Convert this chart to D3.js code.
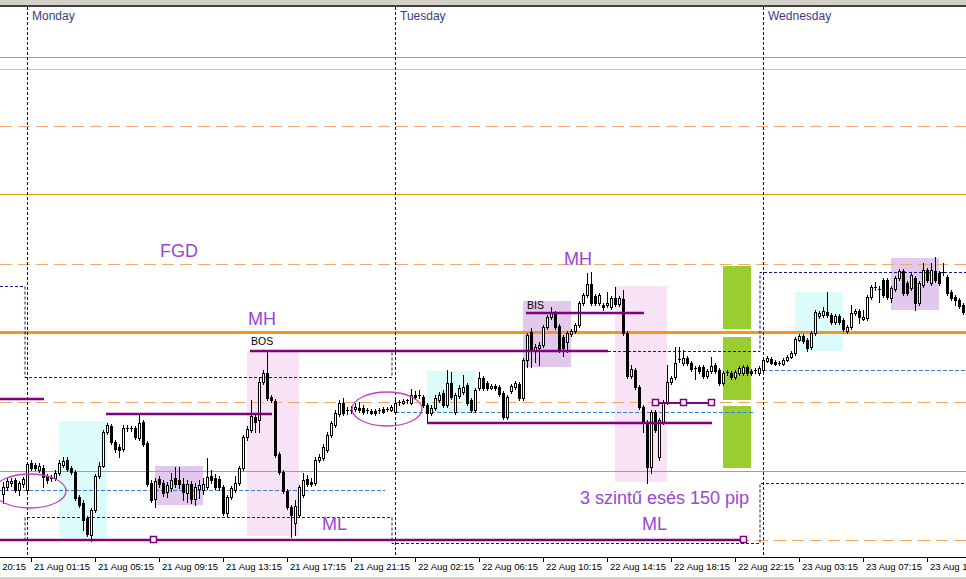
<!DOCTYPE html>
<html><head><meta charset="utf-8">
<script src="https://cdn.jsdelivr.net/npm/d3@7"></script>
<style>body{margin:0;background:#fff}svg{display:block}</style>
</head><body>
<svg id="c" width="966" height="579"></svg>
<script>
// 15-minute candles, [open, high, low, close] in price points
const ohlc = [
[85,97,76,92],[92,101,89,98],[96,101,93,98],[99,101,87,89],[89,98,84,96],[95,102,92,100],
[89,117,87,115],[116,119,109,111],[114,116,109,111],[109,116,107,113],[111,114,92,102],[103,105,96,99],
[101,104,98,100],[101,109,99,106],[106,119,104,116],[114,122,112,118],[119,122,108,110],[111,113,105,107],
[107,109,79,81],[82,84,72,74],[76,79,49,59],[61,63,43,45],[44,71,38,69],[69,105,67,103],
[103,117,101,113],[113,149,112,147],[147,156,145,154],[153,155,135,137],[137,139,127,130],[132,135,122,129],
[130,154,128,151],[150,154,148,151],[151,153,148,150],[151,153,140,142],[141,164,139,156],[157,159,133,135],
[136,138,93,95],[96,99,77,79],[80,101,72,98],[100,103,92,95],[96,99,83,86],[87,97,82,94],
[91,106,88,99],[101,112,92,95],[99,112,91,95],[95,101,79,87],[86,99,77,95],[95,98,76,80],
[80,96,74,92],[90,99,81,94],[89,101,85,95],[92,121,90,102],[103,109,96,99],[101,105,90,92],
[100,103,89,92],[92,94,64,66],[66,84,63,82],[82,93,80,91],[89,103,87,96],[96,113,94,111],
[111,144,109,142],[142,153,139,150],[149,179,147,163],[162,165,147,157],[159,201,147,197],[197,209,195,206],
[206,227,179,181],[182,184,177,179],[178,180,122,124],[125,127,105,107],[107,109,86,88],[88,90,70,72],
[72,74,42,64],[56,79,44,73],[64,94,62,92],[84,106,82,99],[100,104,93,95],[97,101,93,95],
[96,122,94,119],[119,125,117,122],[121,135,119,132],[129,147,127,144],[144,158,142,156],[154,169,152,166],
[165,179,163,176],[176,181,164,166],[168,172,165,169],[169,173,166,168],[170,176,168,172],[171,177,167,169],
[171,174,165,167],[168,171,166,169],[168,170,165,166],[168,170,164,166],[168,171,166,169],[170,172,166,167],
[169,172,168,170],[169,174,168,172],[167,179,166,176],[176,179,174,177],[176,180,175,178],[178,180,176,179],
[176,190,175,184],[184,188,180,182],[183,189,181,184],[182,184,172,174],[174,176,157,166],[166,174,164,171],
[171,184,169,181],[179,187,177,184],[186,189,172,174],[174,209,172,196],[196,207,180,182],[167,186,165,184],
[183,194,181,191],[187,204,185,192],[194,196,174,176],[179,181,167,169],[169,191,167,189],[191,207,189,201],
[201,203,189,191],[196,198,189,191],[191,195,190,193],[193,195,189,191],[192,194,183,185],[186,188,160,162],
[162,184,160,182],[188,195,186,193],[192,198,190,196],[195,197,179,181],[181,221,179,219],[219,246,212,244],
[247,251,212,229],[229,235,217,232],[231,237,214,234],[234,254,232,252],[252,264,250,262],[262,272,260,266],
[266,268,250,252],[253,255,227,229],[242,244,223,231],[237,248,227,246],[245,250,243,248],[248,256,246,254],
[254,278,252,276],[276,286,274,284],[284,306,282,295],[295,307,274,276],[283,285,274,276],[276,286,274,284],
[274,276,269,272],[274,287,272,276],[272,283,270,281],[281,292,273,275],[275,283,273,281],[280,289,244,246],
[246,248,201,203],[203,214,201,210],[209,211,190,192],[192,194,170,172],[172,174,147,157],[157,159,96,112],
[112,169,106,167],[167,169,147,149],[122,161,119,159],[157,179,155,177],[177,214,175,197],[197,203,195,201],
[202,232,200,216],[219,232,217,220],[216,229,214,221],[221,223,214,216],[216,218,208,210],[211,213,200,210],
[212,214,206,208],[212,214,201,203],[203,210,201,208],[208,222,206,213],[214,216,206,208],[209,211,194,196],
[196,208,194,206],[206,209,204,207],[206,208,200,202],[202,209,200,207],[206,213,204,211],[206,214,204,212],
[212,214,204,206],[208,210,204,206],[209,211,206,208],[206,213,204,211],[209,221,207,219],[218,223,217,221],
[220,222,215,216],[217,219,214,215],[216,218,214,215],[215,221,214,219],[219,224,218,222],[222,228,221,226],
[226,242,224,240],[239,245,238,243],[243,245,236,238],[239,241,228,231],[232,248,230,246],[246,269,244,267],
[263,268,261,266],[264,272,262,268],[267,287,262,264],[264,266,255,257],[257,265,255,263],[263,265,255,257],
[259,261,248,250],[248,254,246,252],[252,274,250,266],[266,270,264,268],[268,270,256,262],[260,269,259,262],
[261,284,259,282],[282,294,280,292],[291,297,289,292],[290,293,277,289],[299,301,282,284],[299,301,280,282],
[281,293,277,291],[290,303,288,301],[301,310,299,308],[308,310,284,286],[296,298,284,286],[291,306,289,304],
[301,303,269,276],[276,298,274,296],[294,316,292,309],[309,311,297,299],[296,316,294,309],[308,322,297,299],
[306,308,294,296],[307,316,304,306],[302,304,284,286],[287,289,279,281],[282,284,274,279],[279,281,271,273],
[274,276,265,267]
];
const tickBars = [-9,7,23,39,55,71,87,103,119,135,151,167,183,199,215,231];
const tickLabels = ["20 Aug 20:15","21 Aug 01:15","21 Aug 05:15","21 Aug 09:15","21 Aug 13:15","21 Aug 17:15",
  "21 Aug 21:15","22 Aug 02:15","22 Aug 06:15","22 Aug 10:15","22 Aug 14:15","22 Aug 18:15","22 Aug 22:15",
  "23 Aug 03:15","23 Aug 07:15","23 Aug 11:15"];
const dayStarts = [6, 98, 190];
const dayNames = ["Monday", "Tuesday", "Wednesday"];
const goldLevels = [522, 384, 108];
const dashedLevels = [453, 315, 177, 39];
const mainLevel = 247;
const grayLevel = 509;
// previous-day high / low steps: [fromBar, toBar, high, low]
const prevDay = [[-2, 5.5, 293, 39], [5.5, 97.25, 202, 62], [97.25, 189.25, 228, 36], [189.25, 242, 307, 96]];
// day open lines: [fromBar, toBar, price]
const dayOpen = [[-1, 95.5, 89], [98, 188, 167], [190, 242, 209]];
// zones: [fromBar, toBar, top, bottom, kind]
const zones = [
  [14, 26, 158, 42, "cyan"], [38, 50, 113, 74, "violet"], [61, 74, 228, 43, "pink"],
  [106, 118, 208, 167, "cyan"], [130, 142, 278, 212, "violet"], [153, 166, 293, 97, "pink"],
  [180, 187, 313, 250, "green"], [180, 187, 242, 179, "green"], [180, 187, 173, 111, "green"],
  [198, 210, 287, 228, "cyan"], [222, 234, 321, 269, "violet"]
];
// structure lines: [fromBar, toBar, price, width]
const structLines = [
  [-1, 10.25, 180, 2.5], [25.75, 67.25, 165, 2.5], [61.75, 151.25, 228, 2.5], [-1, 185.5, 39, 2.5],
  [106, 177.25, 156, 2.5], [130.75, 160.25, 266, 2.5], [163, 177, 176, 2]
];
const markers = [[37.5, 39], [185, 39], [163, 176], [170, 176], [177, 176]];
const ellipses = [[6.75, 88, 9, 17], [96, 170, 8.75, 17]];
// annotations: [text, bar, price, size, colour]
const notes = [
  ["FGD", 39.25, 322, 18, "#9b45d6"], ["MH", 61.25, 254, 18, "#9b45d6"], ["BOS", 62, 234, 10.5, "#000"],
  ["MH", 140.25, 314, 18, "#9b45d6"], ["BIS", 131, 270, 10.5, "#000"], ["ML", 79.75, 49, 18, "#9b45d6"],
  ["ML", 159.75, 49, 18, "#9b45d6"], ["3 szintű esés 150 pip", 144.25, 75, 18, "#9b45d6"]
];

const W = 966, H = 579;
const x = d3.scaleLinear().domain([0, 240]).range([3, 963]);
const y = d3.scaleLinear().domain([0, 579]).range([579, 0]);
const svg = d3.select("#c");
const zoneFill = {cyan: "#dcfcfc", violet: "#e3c8ee", pink: "#f8e2f6", green: "#9acd32"};

svg.append("rect").attr("width", W).attr("height", H).attr("fill", "#fff");

// zones
svg.append("g").selectAll("rect").data(zones).join("rect")
  .attr("x", d => x(d[0])).attr("width", d => x(d[1]) - x(d[0]))
  .attr("y", d => y(d[2])).attr("height", d => y(d[3]) - y(d[2]))
  .attr("fill", d => zoneFill[d[4]]);

const lv = svg.append("g");
const hline = (v, col, w, dash) => lv.append("rect").attr("x", 0).attr("width", W)
  .attr("y", Math.round(y(v) - w / 2)).attr("height", w).attr("fill", col);
const dline = (v, col) => lv.append("line").attr("x1", 0).attr("x2", W)
  .attr("y1", Math.round(y(v)) + 0.5).attr("y2", Math.round(y(v)) + 0.5)
  .attr("stroke", col).attr("stroke-width", 1).attr("stroke-dasharray", "12,6")
  .attr("shape-rendering", "crispEdges");
hline(grayLevel, "#c8c8c8", 1);
goldLevels.forEach(v => hline(v, "#d8a000", 1));
dashedLevels.forEach(v => dline(v, "#f2a96e"));
hline(mainLevel, "#f7931e", 3);

// day open lines
svg.append("g").selectAll("line").data(dayOpen).join("line")
  .attr("x1", d => x(d[0])).attr("x2", d => x(d[1]))
  .attr("y1", d => Math.round(y(d[2])) + 0.5).attr("y2", d => Math.round(y(d[2])) + 0.5)
  .attr("stroke", "#3b7fd0").attr("stroke-width", 1).attr("stroke-dasharray", "4,2");

// previous day high/low steps
["hi", "lo"].forEach((k, j) => {
  const pts = [];
  prevDay.forEach(d => { pts.push([x(d[0]), Math.round(y(d[2 + j])) + 0.5]); pts.push([x(d[1]), Math.round(y(d[2 + j])) + 0.5]); });
  svg.append("path").attr("d", d3.line()(pts)).attr("fill", "none")
    .attr("stroke", "#14148a").attr("stroke-width", 1).attr("stroke-dasharray", "3,2");
});

// day separators
svg.append("g").selectAll("line").data(dayStarts).join("line")
  .attr("x1", d => Math.round(x(d)) + 0.5).attr("x2", d => Math.round(x(d)) + 0.5)
  .attr("y1", 7).attr("y2", 557)
  .attr("stroke", "#101040").attr("stroke-width", 1).attr("stroke-dasharray", "3,2");
svg.append("g").selectAll("text").data(dayStarts).join("text")
  .attr("x", d => x(d) + 5).attr("y", 20)
  .attr("font-family", "Liberation Sans, Arial, sans-serif").attr("font-size", 12)
  .attr("fill", "#3a3a85").text((d, i) => dayNames[i]);

// candles
const cg = svg.append("g").attr("shape-rendering", "crispEdges");
ohlc.forEach((d, i) => {
  const [o, h, l, c] = d;
  const cx = Math.round(x(i));
  const hi = Math.max(o, h, l, c), lo = Math.min(o, h, l, c);
  cg.append("line").attr("x1", cx + 0.5).attr("x2", cx + 0.5)
    .attr("y1", Math.round(y(hi))).attr("y2", Math.round(y(lo)) + 1).attr("stroke", "#000");
  const top = Math.round(y(Math.max(o, c))), bot = Math.round(y(Math.min(o, c)));
  if (bot - top <= 1) {
    cg.append("rect").attr("x", cx - 1).attr("y", top).attr("width", 3).attr("height", 1).attr("fill", "#000");
  } else if (c > o) {
    cg.append("rect").attr("x", cx - 0.5).attr("y", top + 0.5).attr("width", 2).attr("height", bot - top)
      .attr("fill", "#fff").attr("stroke", "#000").attr("stroke-width", 1);
  } else {
    cg.append("rect").attr("x", cx - 1).attr("y", top).attr("width", 3).attr("height", bot - top + 1).attr("fill", "#000");
  }
});

// structure lines
svg.append("g").selectAll("line").data(structLines).join("line")
  .attr("x1", d => x(d[0])).attr("x2", d => x(d[1]))
  .attr("y1", d => y(d[2])).attr("y2", d => y(d[2]))
  .attr("stroke", "#800080").attr("stroke-width", d => d[3]);
svg.append("g").selectAll("rect").data(markers).join("rect")
  .attr("x", d => Math.round(x(d[0])) - 2.5).attr("y", d => Math.round(y(d[1])) - 3.5)
  .attr("width", 6).attr("height", 6).attr("fill", "#fff").attr("stroke", "#800080").attr("stroke-width", 1.5);

// ellipses
svg.append("g").selectAll("ellipse").data(ellipses).join("ellipse")
  .attr("cx", d => x(d[0])).attr("cy", d => y(d[1]))
  .attr("rx", d => x(d[2]) - x(0)).attr("ry", d => d[3])
  .attr("fill", "none").attr("stroke", "#c63ec6").attr("stroke-width", 1.3);

// annotations
svg.append("g").selectAll("text").data(notes).join("text")
  .attr("x", d => x(d[1])).attr("y", d => y(d[2]))
  .attr("font-family", "Liberation Sans, Arial, sans-serif").attr("font-size", d => d[3])
  .attr("fill", d => d[4]).text(d => d[0]);

// top frame
svg.append("rect").attr("x", 0).attr("y", 0).attr("width", W).attr("height", 5).attr("fill", "#d4d0c8");
svg.append("line").attr("x1", 0).attr("x2", W).attr("y1", 6).attr("y2", 6).attr("stroke", "#000").attr("stroke-width", 1.5);

// time axis
const ag = svg.append("g").attr("shape-rendering", "crispEdges");
ag.append("rect").attr("x", 0).attr("y", 557).attr("width", W).attr("height", 22).attr("fill", "#fff");
ag.append("line").attr("x1", 0).attr("x2", W).attr("y1", 557.5).attr("y2", 557.5).attr("stroke", "#000");
ag.append("rect").attr("x", 0).attr("y", 577).attr("width", W).attr("height", 2).attr("fill", "#d4d0c8");
ag.selectAll(".tk").data(tickBars).join("line")
  .attr("x1", d => Math.round(x(d)) + 0.5).attr("x2", d => Math.round(x(d)) + 0.5)
  .attr("y1", 558).attr("y2", 562).attr("stroke", "#000");
svg.append("g").selectAll("text").data(tickBars).join("text")
  .attr("x", d => x(d) + 3).attr("y", 570)
  .attr("font-family", "Liberation Sans, Arial, sans-serif").attr("font-size", 9.5)
  .attr("fill", "#000").text((d, i) => tickLabels[i]);
</script>
</body></html>
